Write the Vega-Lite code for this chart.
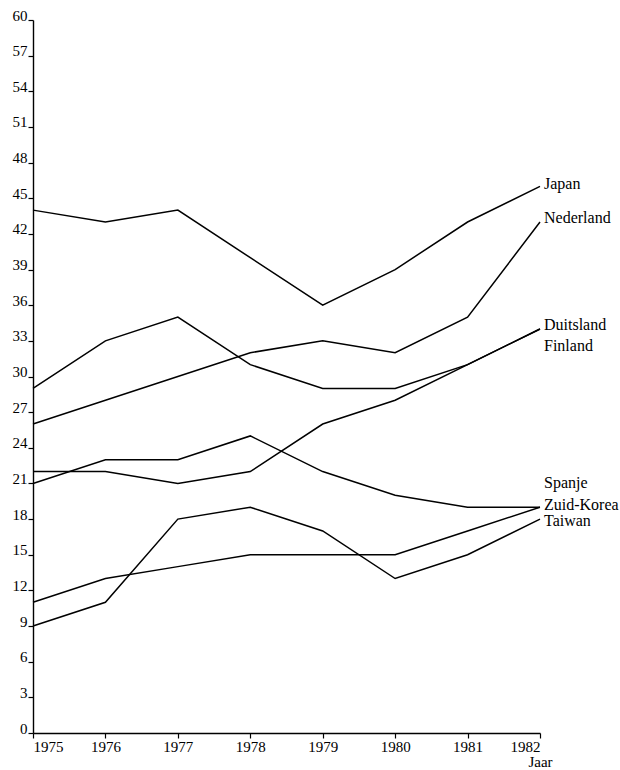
{
  "$schema": "https://vega.github.io/schema/vega-lite/v6.json",
  "autosize": {"type": "none"},
  "padding": {"left": 33, "top": 20, "right": 80, "bottom": 37},
  "width": 507,
  "height": 713,
  "background": "white",
  "config": {
    "view": {"stroke": null},
    "font": "Liberation Serif",
    "axis": {"grid": false, "domainColor": "black", "tickColor": "black", "labelColor": "black", "labelFont": "Liberation Serif", "labelFontSize": 15, "domainWidth": 1.4, "tickWidth": 1.2, "labelOverlap": false}
  },
  "datasets": {
    "series": [
      {"land": "Japan", "jaar": 1975, "waarde": 44}, {"land": "Japan", "jaar": 1976, "waarde": 43}, {"land": "Japan", "jaar": 1977, "waarde": 44}, {"land": "Japan", "jaar": 1978, "waarde": 40}, {"land": "Japan", "jaar": 1979, "waarde": 36}, {"land": "Japan", "jaar": 1980, "waarde": 39}, {"land": "Japan", "jaar": 1981, "waarde": 43}, {"land": "Japan", "jaar": 1982, "waarde": 46},
      {"land": "Nederland", "jaar": 1975, "waarde": 26}, {"land": "Nederland", "jaar": 1976, "waarde": 28}, {"land": "Nederland", "jaar": 1977, "waarde": 30}, {"land": "Nederland", "jaar": 1978, "waarde": 32}, {"land": "Nederland", "jaar": 1979, "waarde": 33}, {"land": "Nederland", "jaar": 1980, "waarde": 32}, {"land": "Nederland", "jaar": 1981, "waarde": 35}, {"land": "Nederland", "jaar": 1982, "waarde": 43},
      {"land": "Duitsland", "jaar": 1975, "waarde": 29}, {"land": "Duitsland", "jaar": 1976, "waarde": 33}, {"land": "Duitsland", "jaar": 1977, "waarde": 35}, {"land": "Duitsland", "jaar": 1978, "waarde": 31}, {"land": "Duitsland", "jaar": 1979, "waarde": 29}, {"land": "Duitsland", "jaar": 1980, "waarde": 29}, {"land": "Duitsland", "jaar": 1981, "waarde": 31}, {"land": "Duitsland", "jaar": 1982, "waarde": 34},
      {"land": "Finland", "jaar": 1975, "waarde": 22}, {"land": "Finland", "jaar": 1976, "waarde": 22}, {"land": "Finland", "jaar": 1977, "waarde": 21}, {"land": "Finland", "jaar": 1978, "waarde": 22}, {"land": "Finland", "jaar": 1979, "waarde": 26}, {"land": "Finland", "jaar": 1980, "waarde": 28}, {"land": "Finland", "jaar": 1981, "waarde": 31}, {"land": "Finland", "jaar": 1982, "waarde": 34},
      {"land": "Spanje", "jaar": 1975, "waarde": 21}, {"land": "Spanje", "jaar": 1976, "waarde": 23}, {"land": "Spanje", "jaar": 1977, "waarde": 23}, {"land": "Spanje", "jaar": 1978, "waarde": 25}, {"land": "Spanje", "jaar": 1979, "waarde": 22}, {"land": "Spanje", "jaar": 1980, "waarde": 20}, {"land": "Spanje", "jaar": 1981, "waarde": 19}, {"land": "Spanje", "jaar": 1982, "waarde": 19},
      {"land": "Zuid-Korea", "jaar": 1975, "waarde": 11}, {"land": "Zuid-Korea", "jaar": 1976, "waarde": 13}, {"land": "Zuid-Korea", "jaar": 1977, "waarde": 14}, {"land": "Zuid-Korea", "jaar": 1978, "waarde": 15}, {"land": "Zuid-Korea", "jaar": 1979, "waarde": 15}, {"land": "Zuid-Korea", "jaar": 1980, "waarde": 15}, {"land": "Zuid-Korea", "jaar": 1981, "waarde": 17}, {"land": "Zuid-Korea", "jaar": 1982, "waarde": 19},
      {"land": "Taiwan", "jaar": 1975, "waarde": 9}, {"land": "Taiwan", "jaar": 1976, "waarde": 11}, {"land": "Taiwan", "jaar": 1977, "waarde": 18}, {"land": "Taiwan", "jaar": 1978, "waarde": 19}, {"land": "Taiwan", "jaar": 1979, "waarde": 17}, {"land": "Taiwan", "jaar": 1980, "waarde": 13}, {"land": "Taiwan", "jaar": 1981, "waarde": 15}, {"land": "Taiwan", "jaar": 1982, "waarde": 18}
    ],
    "labels": [
      {"land": "Japan", "jaar": 1982, "waarde": 46.2},
      {"land": "Nederland", "jaar": 1982, "waarde": 43.3},
      {"land": "Duitsland", "jaar": 1982, "waarde": 34.3},
      {"land": "Finland", "jaar": 1982, "waarde": 32.6},
      {"land": "Spanje", "jaar": 1982, "waarde": 21.0},
      {"land": "Zuid-Korea", "jaar": 1982, "waarde": 19.2},
      {"land": "Taiwan", "jaar": 1982, "waarde": 17.8}
    ]
  },
  "layer": [
    {
      "data": {"name": "series"},
      "mark": {"type": "line", "color": "black", "strokeWidth": 1.5},
      "encoding": {
        "x": {"field": "jaar", "type": "quantitative", "scale": {"domain": [1975, 1982], "nice": false, "zero": false},
          "axis": {"values": [1975, 1976, 1977, 1978, 1979, 1980, 1981, 1982], "tickCount": 20, "format": "d", "labelOverlap": false, "title": "Jaar", "titleFont": "Liberation Serif", "titleFontSize": 15, "titleFontWeight": "normal", "titleColor": "black", "titleAnchor": "end", "titleAlign": "center", "titlePadding": 0, "tickSize": 5, "labelPadding": 1}},
        "y": {"field": "waarde", "type": "quantitative", "scale": {"domain": [0, 60], "nice": false},
          "axis": {"values": [0, 3, 6, 9, 12, 15, 18, 21, 24, 27, 30, 33, 36, 39, 42, 45, 48, 51, 54, 57, 60], "tickCount": 40, "labelOverlap": false, "labelFlush": false, "title": null, "tickSize": 5, "labelPadding": 1, "labelBaseline": "alphabetic", "labelOffset": 0}},
        "detail": {"field": "land"}
      }
    },
    {
      "data": {"name": "labels"},
      "mark": {"type": "text", "align": "left", "baseline": "middle", "dx": 4, "font": "Liberation Serif", "fontSize": 16, "color": "black"},
      "encoding": {
        "x": {"field": "jaar", "type": "quantitative"},
        "y": {"field": "waarde", "type": "quantitative"},
        "text": {"field": "land"}
      }
    }
  ]
}
